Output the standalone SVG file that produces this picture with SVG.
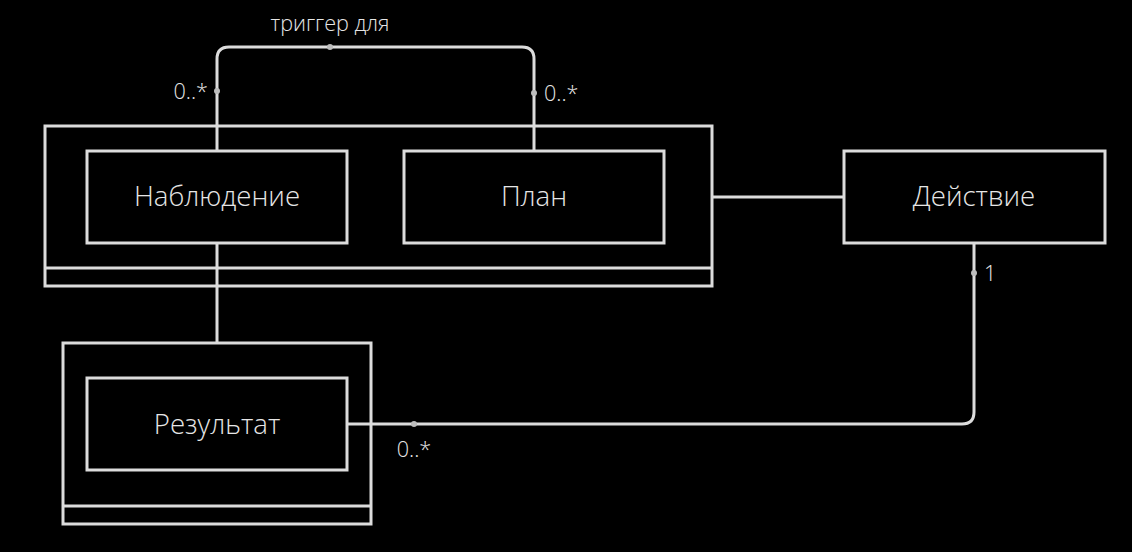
<svg xmlns="http://www.w3.org/2000/svg" width="1132" height="552" viewBox="0 0 1132 552">
<style>
.box{fill:none;stroke:#dcdcdc;stroke-width:3}
.ln{fill:none;stroke:#dcdcdc;stroke-width:3}
.t{font-family:"Open Sans","Noto Sans",sans-serif;font-weight:300;font-size:27.6px;fill:#e6e6e6;text-anchor:middle}
.l{font-family:"Open Sans","Noto Sans",sans-serif;font-weight:300;font-size:21.6px;fill:#e6e6e6}
.dot{fill:#bdbdbd}
</style>
<rect width="1132" height="552" fill="#000"/>
<g id="connectors">
<path class="ln" d="M217 151 V59 Q217 47 229 47 H522 Q534 47 534 59 V151"/>
<path class="ln" d="M712 197 H844"/>
<path class="ln" d="M217 243 V343"/>
<path class="ln" d="M347 424 H962 Q974 424 974 412 V243"/>
<circle class="dot" cx="330" cy="47" r="3"/>
<circle class="dot" cx="217" cy="91" r="3"/>
<circle class="dot" cx="534" cy="93" r="3"/>
<circle class="dot" cx="974" cy="273" r="3"/>
<circle class="dot" cx="414" cy="424" r="3"/>
<text class="l" x="330" y="31" text-anchor="middle">триггер для</text>
<text class="l" x="208" y="99" text-anchor="end">0..*</text>
<text class="l" x="544" y="101">0..*</text>
<text class="l" x="984" y="281">1</text>
<text class="l" x="414" y="457" text-anchor="middle">0..*</text>
</g>
<g id="group-observation-plan">
<rect class="box" x="45" y="126" width="667" height="160"/>
<line class="ln" x1="45" y1="268" x2="712" y2="268"/>
</g>
<g id="node-observation">
<rect class="box" x="87" y="151" width="260" height="92"/>
<text class="t" x="217" y="206">Наблюдение</text>
</g>
<g id="node-plan">
<rect class="box" x="404" y="151" width="260" height="92"/>
<text class="t" x="534" y="206">План</text>
</g>
<g id="node-action">
<rect class="box" x="844" y="151" width="261" height="92"/>
<text class="t" x="974" y="206">Действие</text>
</g>
<g id="group-result">
<rect class="box" x="63" y="343" width="308" height="181"/>
<line class="ln" x1="63" y1="506" x2="371" y2="506"/>
</g>
<g id="node-result">
<rect class="box" x="87" y="378" width="260" height="92"/>
<text class="t" x="217" y="434">Результат</text>
</g>
</svg>
